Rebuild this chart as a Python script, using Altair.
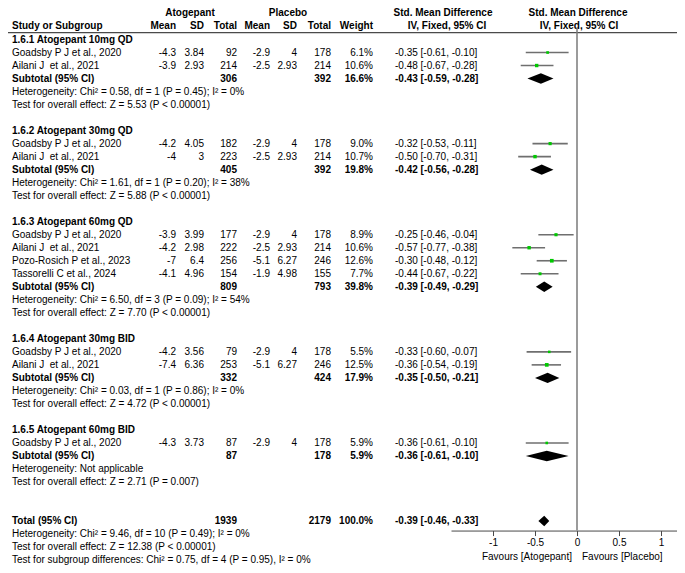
import altair as alt
import pandas as pd

# ---------------- data ----------------
group_titles = ["1.6.1 Atogepant 10mg QD", "1.6.2 Atogepant 30mg QD", "1.6.3 Atogepant 60mg QD",
                "1.6.4 Atogepant 30mg BID", "1.6.5 Atogepant 60mg BID"]
study_group = [0, 0, 1, 1, 2, 2, 2, 2, 3, 3, 4]
study_name = ["Goadsby P J et al., 2020", "Ailani J\u00a0 et al., 2021",
              "Goadsby P J et al., 2020", "Ailani J\u00a0 et al., 2021",
              "Goadsby P J et al., 2020", "Ailani J\u00a0 et al., 2021",
              "Pozo-Rosich P et al., 2023", "Tassorelli C et al., 2024",
              "Goadsby P J et al., 2020", "Ailani J\u00a0 et al., 2021",
              "Goadsby P J et al., 2020"]
ato_mean = [-4.3, -3.9, -4.2, -4, -3.9, -4.2, -7, -4.1, -4.2, -7.4, -4.3]
ato_sd = [3.84, 2.93, 4.05, 3, 3.99, 2.98, 6.4, 4.96, 3.56, 6.36, 3.73]
ato_n = [92, 214, 182, 223, 177, 222, 256, 154, 79, 253, 87]
pla_mean = [-2.9, -2.5, -2.9, -2.5, -2.9, -2.5, -5.1, -1.9, -2.9, -5.1, -2.9]
pla_sd = [4, 2.93, 4, 2.93, 4, 2.93, 6.27, 4.98, 4, 6.27, 4]
pla_n = [178, 214, 178, 214, 178, 214, 246, 155, 178, 246, 178]
weight = [6.1, 10.6, 9.0, 10.7, 8.9, 10.6, 12.6, 7.7, 5.5, 12.5, 5.9]
smd = [-0.35, -0.48, -0.32, -0.50, -0.25, -0.57, -0.30, -0.44, -0.33, -0.36, -0.36]
ci_lo = [-0.61, -0.67, -0.53, -0.70, -0.46, -0.77, -0.48, -0.67, -0.60, -0.54, -0.61]
ci_hi = [-0.10, -0.28, -0.11, -0.31, -0.04, -0.38, -0.12, -0.22, -0.07, -0.19, -0.10]

sub_ato_n = [306, 405, 809, 332, 87]
sub_pla_n = [392, 392, 793, 424, 178]
sub_weight = [16.6, 19.8, 39.8, 17.9, 5.9]
sub_smd = [-0.43, -0.42, -0.39, -0.35, -0.36]
sub_lo = [-0.59, -0.56, -0.49, -0.50, -0.61]
sub_hi = [-0.28, -0.28, -0.29, -0.21, -0.10]
sub_het = ["Heterogeneity: Chi² = 0.58, df = 1 (P = 0.45); I² = 0%",
           "Heterogeneity: Chi² = 1.61, df = 1 (P = 0.20); I² = 38%",
           "Heterogeneity: Chi² = 6.50, df = 3 (P = 0.09); I² = 54%",
           "Heterogeneity: Chi² = 0.03, df = 1 (P = 0.86); I² = 0%",
           "Heterogeneity: Not applicable"]
sub_test = ["Test for overall effect: Z = 5.53 (P < 0.00001)",
            "Test for overall effect: Z = 5.88 (P < 0.00001)",
            "Test for overall effect: Z = 7.70 (P < 0.00001)",
            "Test for overall effect: Z = 4.72 (P < 0.00001)",
            "Test for overall effect: Z = 2.71 (P = 0.007)"]

total_ato_n = 1939
total_pla_n = 2179
total_weight = 100.0
total_smd = -0.39
total_lo = -0.46
total_hi = -0.33
total_notes = ["Heterogeneity: Chi² = 9.46, df = 10 (P = 0.49); I² = 0%",
               "Test for overall effect: Z = 12.38 (P < 0.00001)",
               "Test for subgroup differences: Chi² = 0.75, df = 4 (P = 0.95), I² = 0%"]

header_cols = ["Study or Subgroup", "Mean", "SD", "Total", "Mean", "SD", "Total", "Weight"]
x_ticks = [-1, -0.5, 0, 0.5, 1]
favours = ["Favours [Atogepant]", "Favours [Placebo]"]

# ---------------- layout ----------------
W, H = 669, 557
Y0, DY = 31.5, 13.015          # pixel of row 0, pixels per row
X0, PXU = 569.0, 84.0          # pixel of SMD 0, pixels per SMD unit
FONT = "Liberation Sans"


def ypx(r):
    return Y0 + DY * r


yscale = alt.Scale(domain=[-Y0 / DY, (H - Y0) / DY], range=[0, H], nice=False, zero=False)
xscale = alt.Scale(domain=[-1.5, (W - X0) / PXU], range=[X0 - 1.5 * PXU, W], nice=False, zero=False)
AX_ROW = 37.73
xaxis = alt.Axis(values=x_ticks, labelExpr="'' + datum.value", title="", grid=False,
                 orient="bottom", offset=ypx(AX_ROW) - H, tickSize=5,
                 domainColor="#4a4a4a", tickColor="#4a4a4a", domainWidth=1, tickWidth=1,
                 labelColor="black", labelFont=FONT, labelFontSize=10, labelPadding=2,
                 labelOverlap=False)


def fmt_ci(e, lo, hi):
    return f"{e:.2f} [{lo:.2f}, {hi:.2f}]"


text_rows = []
study_pts = []
diamonds = []
text_rows.append(dict(row=-1.06, name=header_cols[0], am=header_cols[1], asd=header_cols[2],
                      an=header_cols[3], pm=header_cols[4], psd=header_cols[5], pn=header_cols[6],
                      w=header_cols[7], ci="", bold=True))
r = 0
for g, title in enumerate(group_titles):
    text_rows.append(dict(row=r, name=title, bold=True))
    r += 1
    for i in range(len(study_name)):
        if study_group[i] != g:
            continue
        text_rows.append(dict(row=r, name=study_name[i], am=f"{ato_mean[i]:g}", asd=f"{ato_sd[i]:g}",
                              an=str(ato_n[i]), pm=f"{pla_mean[i]:g}", psd=f"{pla_sd[i]:g}",
                              pn=str(pla_n[i]), w=f"{weight[i]:.1f}%",
                              ci=fmt_ci(smd[i], ci_lo[i], ci_hi[i]), bold=False))
        study_pts.append(dict(row=r, est=smd[i], lo=ci_lo[i], hi=ci_hi[i], weight=weight[i]))
        r += 1
    text_rows.append(dict(row=r, name="Subtotal (95% CI)", an=str(sub_ato_n[g]), pn=str(sub_pla_n[g]),
                          w=f"{sub_weight[g]:.1f}%", ci=fmt_ci(sub_smd[g], sub_lo[g], sub_hi[g]), bold=True))
    for xv, h in ((sub_lo[g], 0.0), (sub_smd[g], 0.4), (sub_hi[g], 0.0)):
        diamonds.append(dict(id=f"g{g}", x=xv, y=r - h, y2=r + h))
    r += 1
    text_rows.append(dict(row=r, name=sub_het[g], bold=False))
    r += 1
    text_rows.append(dict(row=r, name=sub_test[g], bold=False))
    r += 1
    r += 1
r += 1
text_rows.append(dict(row=r, name="Total (95% CI)", an=str(total_ato_n), pn=str(total_pla_n),
                      w=f"{total_weight:.1f}%", ci=fmt_ci(total_smd, total_lo, total_hi), bold=True))
for xv, h in ((total_lo, 0.0), (total_smd, 0.4), (total_hi, 0.0)):
    diamonds.append(dict(id="total", x=xv, y=r - h, y2=r + h))
r += 1
for note in total_notes:
    text_rows.append(dict(row=r, name=note, bold=False))
    r += 1

tdf = pd.DataFrame(text_rows).fillna("")
tdf["bold"] = tdf["bold"].astype(bool)
sdf = pd.DataFrame(study_pts)
ddf = pd.DataFrame(diamonds)

columns = [("name", 4, "left"), ("am", 168, "right"), ("asd", 196, "right"), ("an", 229, "right"),
           ("pm", 262, "right"), ("psd", 289, "right"), ("pn", 323, "right"), ("w", 365, "right"),
           ("ci", 387, "left")]

layers = []


def tlayer(df, field, x, align, bold):
    return alt.Chart(df).mark_text(align=align, baseline="middle", font=FONT, fontSize=10,
                                   fontWeight="bold" if bold else "normal", color="black").encode(
        x=alt.value(x), y=alt.Y("row:Q", scale=yscale, axis=None), text=alt.Text(f"{field}:N"))


for bold in (True, False):
    sub = tdf[tdf["bold"] == bold]
    for field, x, align in columns:
        layers.append(tlayer(sub, field, x, align, bold))

# top header line
hdr1 = pd.DataFrame({"row": [-2.04], "a": ["Atogepant"], "p": ["Placebo"], "s": ["Std. Mean Difference"]})
layers.append(tlayer(hdr1, "a", 182, "center", True))
layers.append(tlayer(hdr1, "p", 280, "center", True))
layers.append(tlayer(hdr1, "s", 435, "center", True))
layers.append(tlayer(hdr1, "s", X0 + 1, "center", True))
hdr2 = pd.DataFrame({"row": [-1.06], "s": ["IV, Fixed, 95% CI"]})
layers.append(tlayer(hdr2, "s", 439, "center", True))
layers.append(tlayer(hdr2, "s", X0 + 2, "center", True))

# header separator
layers.append(alt.Chart(pd.DataFrame({"k": [0]})).mark_rule(color="#4a4a4a", strokeWidth=1.2).encode(
    x=alt.value(0), x2=alt.value(W), y=alt.value(ypx(-0.53))))

# zero line
layers.append(alt.Chart(pd.DataFrame({"x": [0]})).mark_rule(color="#7a7a7a", strokeWidth=1.5).encode(
    x=alt.X("x:Q", scale=xscale, axis=xaxis), y=alt.value(ypx(-0.907)), y2=alt.value(ypx(AX_ROW))))

# confidence intervals
layers.append(alt.Chart(sdf).mark_rule(color="#6f6f6f", strokeWidth=1.6).encode(
    x=alt.X("lo:Q", scale=xscale, axis=xaxis), x2="hi:Q",
    y=alt.Y("row:Q", scale=yscale, axis=None)))
# point estimates
layers.append(alt.Chart(sdf).mark_square(color="#00c800", opacity=1).encode(
    x=alt.X("est:Q", scale=xscale, axis=xaxis),
    y=alt.Y("row:Q", scale=yscale, axis=None),
    size=alt.Size("weight:Q", scale=alt.Scale(domain=[0, 13], range=[1, 14]), legend=None)))
# diamonds
layers.append(alt.Chart(ddf).mark_area(color="black", opacity=1).encode(
    x=alt.X("x:Q", scale=xscale, axis=xaxis),
    y=alt.Y("y:Q", scale=yscale, axis=None), y2="y2:Q", detail="id:N"))

# favours labels
fav_row = 39.77
layers.append(alt.Chart(pd.DataFrame({"x": [0], "t": [favours[0]]})).mark_text(
    align="right", baseline="middle", dx=-5, font=FONT, fontSize=10, color="black").encode(
    x=alt.X("x:Q", scale=xscale, axis=xaxis), y=alt.value(ypx(fav_row)), text="t:N"))
layers.append(alt.Chart(pd.DataFrame({"x": [0], "t": [favours[1]]})).mark_text(
    align="left", baseline="middle", dx=5, font=FONT, fontSize=10, color="black").encode(
    x=alt.X("x:Q", scale=xscale, axis=xaxis), y=alt.value(ypx(fav_row)), text="t:N"))

chart = alt.layer(*layers).properties(
    width=W, height=H, autosize=alt.AutoSizeParams(type="none"), padding=0
).configure_view(strokeWidth=0)

chart.save("out.html", embed_options={"renderer": "svg", "actions": False})
